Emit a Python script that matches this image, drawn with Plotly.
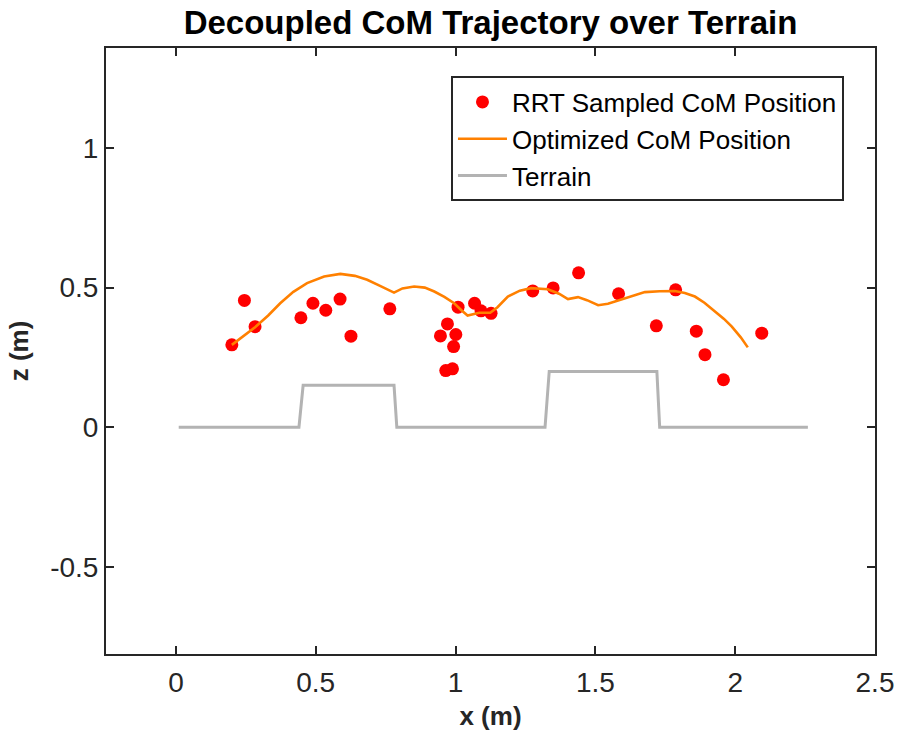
import plotly.graph_objects as go

# RRT sampled CoM positions
rrt_x = [0.200, 0.245, 0.283, 0.447, 0.490, 0.536, 0.587, 0.626, 0.765, 0.946, 0.971,
         1.001, 0.993, 0.965, 0.989, 1.009, 1.068, 1.091, 1.127, 1.276, 1.349, 1.440,
         1.583, 1.718, 1.787, 1.861, 1.892, 1.958, 2.095]
rrt_z = [0.295, 0.454, 0.360, 0.392, 0.444, 0.419, 0.459, 0.326, 0.424, 0.327, 0.370,
         0.332, 0.289, 0.203, 0.209, 0.430, 0.444, 0.417, 0.408, 0.488, 0.499, 0.553,
         0.478, 0.363, 0.492, 0.344, 0.260, 0.170, 0.337]

# Optimized CoM trajectory
opt_x = [0.200, 0.283, 0.330, 0.373, 0.420, 0.469, 0.530, 0.588, 0.640, 0.684, 0.730,
         0.780, 0.810, 0.852, 0.890, 0.924, 0.960, 0.995, 1.020, 1.043, 1.085, 1.124,
         1.150, 1.187, 1.230, 1.270, 1.330, 1.370, 1.402, 1.438, 1.470, 1.510, 1.545,
         1.605, 1.677, 1.730, 1.784, 1.820, 1.856, 1.890, 1.928, 1.960, 1.988, 2.020, 2.045]
opt_z = [0.295, 0.358, 0.400, 0.444, 0.485, 0.516, 0.540, 0.549, 0.542, 0.528, 0.506,
         0.482, 0.497, 0.504, 0.500, 0.486, 0.467, 0.444, 0.420, 0.400, 0.410, 0.410,
         0.430, 0.468, 0.489, 0.498, 0.494, 0.478, 0.459, 0.466, 0.455, 0.437, 0.442,
         0.462, 0.484, 0.487, 0.488, 0.481, 0.468, 0.446, 0.414, 0.388, 0.360, 0.322, 0.286]

# Terrain profile
terrain_x = [0.01, 0.44, 0.455, 0.78, 0.79, 1.32, 1.335, 1.72, 1.73, 2.26]
terrain_z = [0.0, 0.0, 0.15, 0.15, 0.0, 0.0, 0.2, 0.2, 0.0, 0.0]

x_ticks = [0, 0.5, 1, 1.5, 2, 2.5]
x_labels = ["0", "0.5", "1", "1.5", "2", "2.5"]
y_ticks = [-0.5, 0, 0.5, 1]
y_labels = ["-0.5", "0", "0.5", "1"]

FONT = "Liberation Sans, Arial, sans-serif"
AX = "#262626"

fig = go.Figure()
fig.add_trace(go.Scatter(x=rrt_x, y=rrt_z, mode="markers", name="RRT Sampled CoM Position",
                         marker=dict(color="#ff0000", size=13, line=dict(width=0))))
fig.add_trace(go.Scatter(x=opt_x, y=opt_z, mode="lines", name="Optimized CoM Position",
                         line=dict(color="#ff8000", width=2.6)))
fig.add_trace(go.Scatter(x=terrain_x, y=terrain_z, mode="lines", name="Terrain",
                         line=dict(color="#b3b3b3", width=3)))

axis_common = dict(showgrid=False, zeroline=False, showline=True, linecolor=AX, linewidth=2,
                   mirror="ticks", ticks="inside", ticklen=8, tickwidth=2, tickcolor=AX,
                   automargin=False,
                   tickfont=dict(family=FONT, size=28, color=AX))

fig.update_xaxes(range=[-0.25, 2.5], tickvals=x_ticks, ticktext=x_labels, ticklabelstandoff=2,
                 title=dict(text="<b>x (m)</b>", font=dict(family=FONT, size=26, color=AX), standoff=10),
                 **axis_common)
fig.update_yaxes(range=[-0.812, 1.358], tickvals=y_ticks, ticktext=y_labels,
                 title=dict(text="<b>z (m)</b>", font=dict(family=FONT, size=26, color=AX), standoff=14),
                 **axis_common)

fig.update_layout(
    width=899, height=740,
    margin=dict(l=106, r=24, t=48, b=86, autoexpand=False),
    paper_bgcolor="white", plot_bgcolor="white",
    title=dict(text="<b>Decoupled CoM Trajectory over Terrain</b>", x=0.5, xref="paper",
               xanchor="center", yref="container", y=0.9703, yanchor="middle",
               font=dict(family=FONT, size=33, color="black")),
    legend=dict(x=0.4486, y=0.953, xanchor="left", yanchor="top",
                bgcolor="white", bordercolor=AX, borderwidth=2,
                font=dict(family=FONT, size=26, color="black"),
                tracegroupgap=0, itemwidth=49),
    showlegend=True,
)

fig.write_html("out.html", config={"displayModeBar": False},
               post_script="document.body.style.margin='0';document.body.style.overflow='hidden';")
